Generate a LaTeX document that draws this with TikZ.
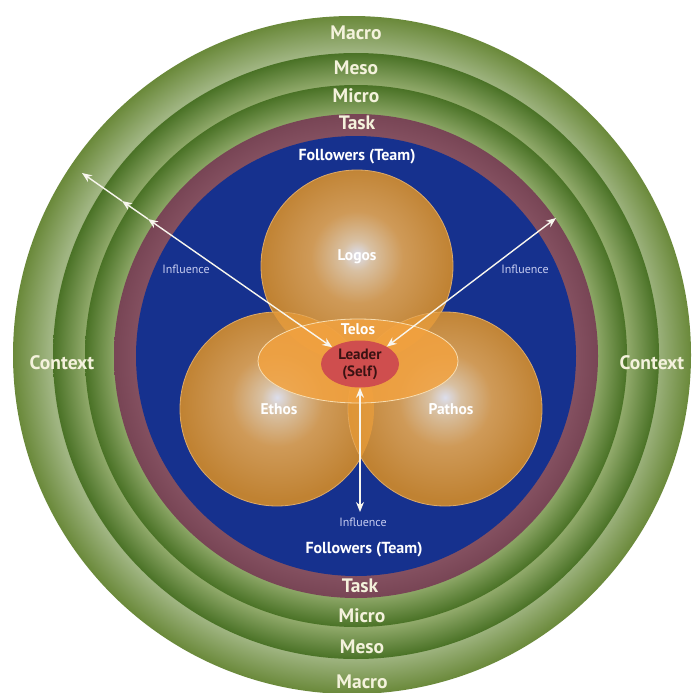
\documentclass[tikz,border=0pt]{standalone}
\usepackage{fontspec}
\setmainfont{PT Sans}
\usetikzlibrary{arrows.meta,shapes.geometric}

% palette
\definecolor{macroIn}{HTML}{A0B582}
\definecolor{macroOut}{HTML}{6A893A}
\definecolor{mesoIn}{HTML}{90A96A}
\definecolor{mesoOut}{HTML}{4A7226}
\definecolor{microIn}{HTML}{8CA666}
\definecolor{microOut}{HTML}{4A7226}
\definecolor{taskIn}{HTML}{845060}
\definecolor{taskOut}{HTML}{784555}
\definecolor{teamBlue}{HTML}{16318E}
\definecolor{sphHi}{HTML}{DCDEEC}
\definecolor{sphMidA}{HTML}{D8C0A2}
\definecolor{sphMid}{HTML}{CF9A58}
\definecolor{sphEdge}{HTML}{C08232}
\definecolor{sphLine}{HTML}{DDAA68}
\definecolor{lensOrange}{HTML}{F2A23A}
\definecolor{telosFill}{HTML}{F2A240}
\definecolor{telosLine}{HTML}{F8DDB0}
\definecolor{leaderRed}{HTML}{CF4E4E}
\definecolor{leaderText}{HTML}{3A1212}
\definecolor{cream}{HTML}{F4F2DC}
\definecolor{inflText}{HTML}{C6CCF0}
\definecolor{arrowWhite}{HTML}{F8F6EE}

% ring shadings: light at the inner edge, darker at the outer edge
\pgfdeclareradialshading{ringmacro}{\pgfpointorigin}{color(0bp)=(macroIn); color(22.3bp)=(macroIn); color(25bp)=(macroOut); color(50bp)=(macroOut)}
\pgfdeclareradialshading{ringmeso}{\pgfpointorigin}{color(0bp)=(mesoIn); color(22.4bp)=(mesoIn); color(25bp)=(mesoOut); color(50bp)=(mesoOut)}
\pgfdeclareradialshading{ringmicro}{\pgfpointorigin}{color(0bp)=(microIn); color(22.3bp)=(microIn); color(25bp)=(microOut); color(50bp)=(microOut)}
\pgfdeclareradialshading{ringtask}{\pgfpointorigin}{color(0bp)=(taskIn); color(22.7bp)=(taskIn); color(25bp)=(taskOut); color(50bp)=(taskOut)}
% glowing sphere
\pgfdeclareradialshading{sphereorange}{\pgfpoint{0bp}{3bp}}{color(0bp)=(sphHi); color(4bp)=(sphMidA); color(12bp)=(sphMid); color(25bp)=(sphEdge); color(50bp)=(sphEdge)}

\begin{document}
\begin{tikzpicture}[x=1pt,y=-1pt,
  >={Stealth[length=10pt,width=8pt]},
  ringlabel/.style={text=cream,font=\bfseries\fontsize{19.5}{21}\selectfont,inner sep=0pt},
  teamlabel/.style={text=white,font=\bfseries\fontsize{16}{18}\selectfont,inner sep=0pt},
  spherelabel/.style={text=white,font=\bfseries\fontsize{15.5}{17}\selectfont,inner sep=0pt},
  infllabel/.style={text=inflText,font=\fontsize{12}{14}\selectfont,inner sep=0pt},
  infl/.style={draw=arrowWhite,line width=1.4pt},
  sphere/.style={shading=sphereorange,draw=sphLine,line width=0.8pt},
  lens/.style={fill=lensOrange,fill opacity=0.6}]
\useasboundingbox (0,0) rectangle (691,693);
\fill[white] (0,0) rectangle (691,693);

% concentric context rings
\shade[shading=ringmacro] (352,355) circle[radius=339pt];
\shade[shading=ringmeso]  (356,356) circle[radius=303pt];
\shade[shading=ringmicro] (356,356) circle[radius=271pt];
\shade[shading=ringtask]  (356,356) circle[radius=242pt];
\fill[teamBlue] (356,356) circle[radius=220pt];

% the three appeals
\coordinate (cL) at (357,266);
\coordinate (cE) at (277,409);
\coordinate (cP) at (445,409);
\shadedraw[sphere] (cL) circle[radius=96pt];
\shadedraw[sphere] (cE) circle[radius=97pt];
\shadedraw[sphere] (cP) circle[radius=97pt];
\begin{scope}
  \clip (cL) circle[radius=96pt];
  \fill[lens] (cE) circle[radius=97pt];
  \fill[lens] (cP) circle[radius=97pt];
\end{scope}
\begin{scope}
  \clip (cE) circle[radius=97pt];
  \fill[lens] (cP) circle[radius=97pt];
\end{scope}

% purpose and leader
\node[ellipse,minimum width=200pt,minimum height=84pt,inner sep=0pt,
      fill=telosFill,fill opacity=0.85,draw=telosLine,line width=0.8pt] (telos) at (358,361) {};
\node[ellipse,minimum width=78pt,minimum height=47pt,inner sep=0pt,fill=leaderRed,
      text=leaderText,align=center,font=\bfseries\fontsize{15}{17}\selectfont] (leader) at (360,364) {Leader\\(Self)};

% influence arrows
\coordinate (kA) at (148,219);
\coordinate (kB) at (122,201);
\coordinate (kC) at (82,173);
\coordinate (rEnd) at (556,218);
\coordinate (bEnd) at (360,512);
\draw[infl,<->] (leader.149) -- (kA);
\draw[infl,->] (kA) -- (kB);
\draw[infl,->] (kB) -- (kC);
\draw[infl,<->] (leader.33) -- (rEnd);
\draw[infl,<->] (leader.south) -- (bEnd);

% labels
\node[ringlabel] (macroT) at (356,33) {Macro};
\node[ringlabel] (mesoT)  at (356,68) {Meso};
\node[ringlabel] (microT) at (356,96) {Micro};
\node[ringlabel] (taskT)  at (357,123) {Task};
\node[teamlabel] (teamT)  at (357,157) {Followers (Team)};
\node[ringlabel] (macroB) at (362,682) {Macro};
\node[ringlabel] (mesoB)  at (362,647) {Meso};
\node[ringlabel] (microB) at (362,616) {Micro};
\node[ringlabel] (taskB)  at (360,586) {Task};
\node[teamlabel] (teamB)  at (364,550) {Followers (Team)};
\node[ringlabel] (ctxL) at (62,363) {Context};
\node[ringlabel] (ctxR) at (652,363) {Context};
\node[infllabel] (inflL) at (186,269) {Influence};
\node[infllabel] (inflR) at (525,269) {Influence};
\node[infllabel] (inflB) at (363,522) {Influence};
\node[spherelabel] (logosT)  at (357,257) {Logos};
\node[spherelabel] (ethosT)  at (279,409) {Ethos};
\node[spherelabel] (pathosT) at (451,409) {Pathos};
\node[spherelabel] (telosT)  at (358,329) {Telos};
\end{tikzpicture}
\end{document}
